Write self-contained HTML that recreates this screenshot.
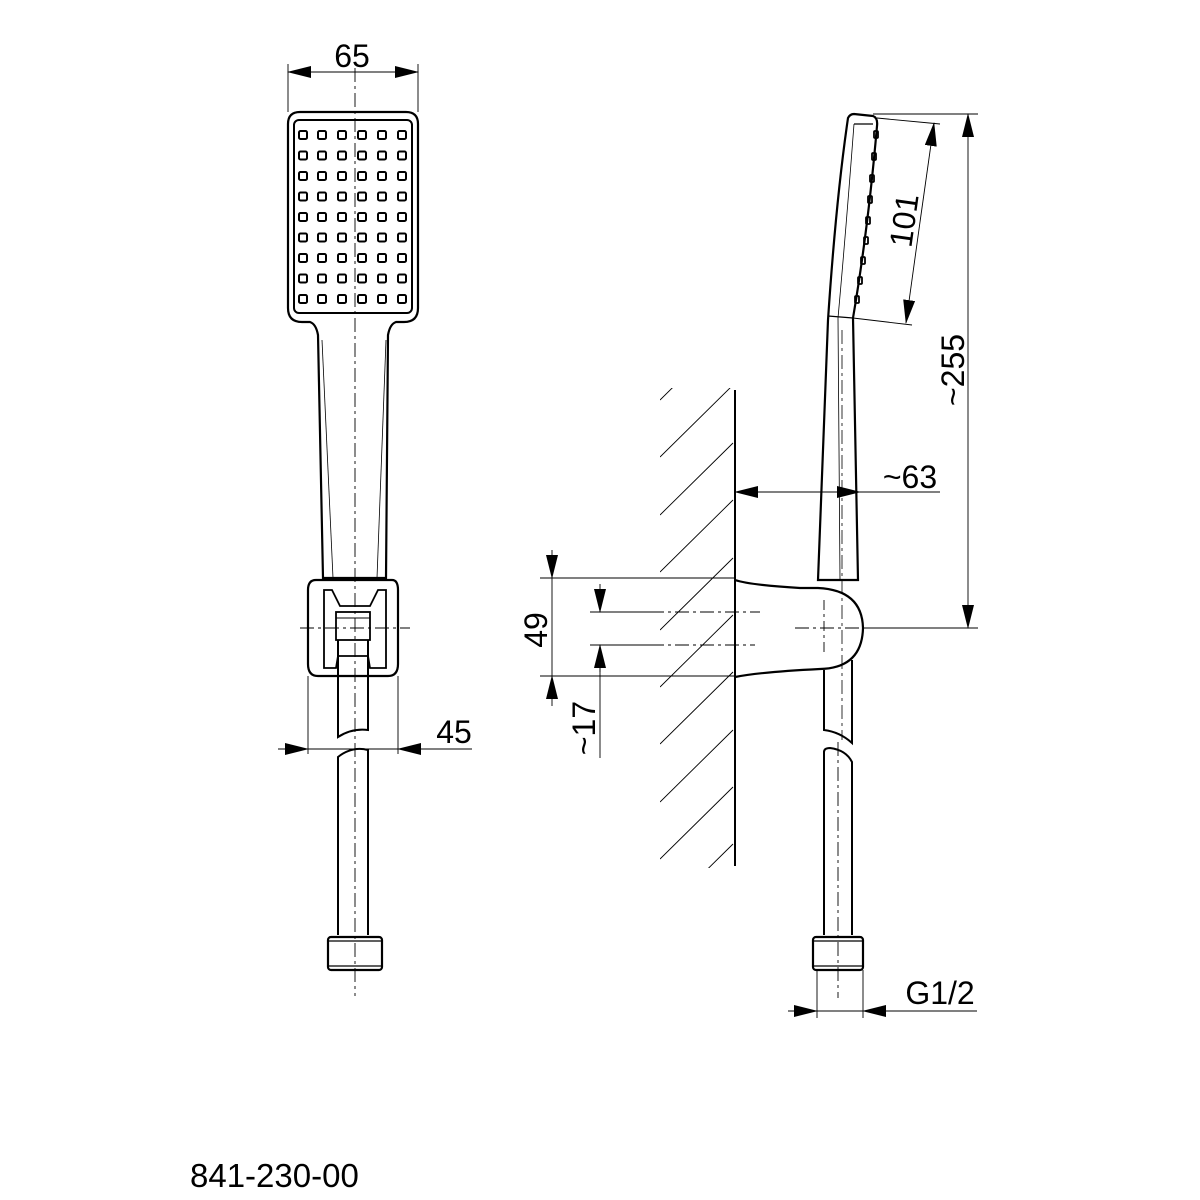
<!DOCTYPE html>
<html><head><meta charset="utf-8"><style>html,body{margin:0;padding:0;background:#fff}svg{display:block}</style></head><body>
<svg width="1200" height="1200" viewBox="0 0 1200 1200" xmlns="http://www.w3.org/2000/svg" font-family="Liberation Sans, Arial, sans-serif">
<defs>
<marker id="a" markerWidth="24" markerHeight="12" refX="23" refY="6" orient="auto" markerUnits="userSpaceOnUse"><path d="M0,0 L24,6 L0,12 Z" fill="#000"/></marker>
<clipPath id="hc"><rect x="660" y="388" width="75" height="480"/></clipPath>
</defs>
<g fill="none" stroke="#000">
<!-- FRONT VIEW -->
<line x1="355" y1="68" x2="355" y2="996" stroke-width="0.9" stroke-dasharray="14,4,3,4"/>
<line x1="300" y1="628" x2="410" y2="628" stroke-width="0.9" stroke-dasharray="14,4,3,4"/>
<path d="M300,112 H406 Q418,112 418,124 V308 Q418,322 404,322 H396 Q390,324 388,335 L386,578 H323 L318,335 Q316,324 310,322 H302 Q288,322 288,308 V124 Q288,112 300,112 Z" stroke-width="2.2"/>
<rect x="294" y="120" width="118" height="193" rx="5" stroke-width="2"/>
<line x1="322" y1="340" x2="333" y2="578" stroke-width="0.8"/>
<line x1="386" y1="340" x2="377" y2="578" stroke-width="0.8"/>
<g stroke-width="2">
<g id="row">
<rect x="299" y="131" width="8" height="8" rx="1.5"/><rect x="318" y="131" width="8" height="8" rx="1.5"/><rect x="338" y="131" width="8" height="8" rx="1.5"/><rect x="358" y="131" width="8" height="8" rx="1.5"/><rect x="378" y="131" width="8" height="8" rx="1.5"/><rect x="398" y="131" width="8" height="8" rx="1.5"/>
</g>
<use href="#row" y="20.5"/><use href="#row" y="41"/><use href="#row" y="61.5"/><use href="#row" y="82"/><use href="#row" y="102.5"/><use href="#row" y="123"/><use href="#row" y="143.5"/><use href="#row" y="164"/>
</g>
<path d="M316,580 H392 Q398,580 398,590 V664 Q398,676 388,676 H318 Q308,676 308,664 V590 Q308,580 316,580 Z" stroke-width="2.2"/>
<path d="M324,590 H332 L340,606 L370,606 L378,590 H386 V668 H370 L368,656 H338 L336,668 H324 Z" stroke-width="1.8"/>
<rect x="336" y="612" width="34" height="28" stroke-width="1.8"/>
<line x1="336" y1="618" x2="370" y2="618" stroke-width="1"/>
<path d="M338,640 V737 Q352,728 368,730 V640" stroke-width="2"/>
<path d="M338,935 V757 Q352,746 368,750 V935" stroke-width="2"/>
<rect x="328" y="937" width="54" height="33" rx="3" stroke-width="2.2"/>
<line x1="329" y1="941" x2="381" y2="941" stroke-width="1.2"/>
<line x1="329" y1="966" x2="381" y2="966" stroke-width="1.2"/>
<g stroke-width="0.9">
<line x1="288" y1="64" x2="288" y2="112"/><line x1="418" y1="64" x2="418" y2="112"/>
<line x1="355" y1="72" x2="288" y2="72" marker-end="url(#a)"/><line x1="355" y1="72" x2="418" y2="72" marker-end="url(#a)"/>
<line x1="308" y1="676" x2="308" y2="754"/><line x1="398" y1="676" x2="398" y2="754"/>
<line x1="278" y1="749" x2="308" y2="749" marker-end="url(#a)"/><line x1="472" y1="749" x2="398" y2="749" marker-end="url(#a)"/>
<line x1="308" y1="749" x2="398" y2="749"/>
</g>
<!-- SIDE VIEW wall -->
<line x1="735" y1="390" x2="735" y2="866" stroke-width="2"/>
<g clip-path="url(#hc)" stroke-width="0.9">
<line x1="660" y1="400" x2="733" y2="328"/><line x1="660" y1="457" x2="733" y2="385"/><line x1="660" y1="515" x2="733" y2="443"/><line x1="660" y1="572" x2="733" y2="500"/><line x1="660" y1="630" x2="733" y2="558"/><line x1="660" y1="687" x2="733" y2="615"/><line x1="660" y1="744" x2="733" y2="672"/><line x1="660" y1="802" x2="733" y2="730"/><line x1="660" y1="859" x2="733" y2="787"/><line x1="660" y1="916" x2="733" y2="844"/>
</g>
<path d="M854,114 L873,116 Q878,118 877,126 Q868,230 853,318 L858,580 H818 L828,320 Q836,200 848,118 Q850,114 854,114 Z" stroke-width="2.2"/>
<path d="M854,124 L873,124" stroke-width="1.2"/>
<path d="M854,124 Q846,230 838,318 L840,580" stroke-width="0.8"/>
<line x1="828" y1="316" x2="853" y2="318" stroke-width="1.2"/>
<g stroke-width="1.8">
<rect x="874" y="131" width="4" height="7" rx="1"/><rect x="872" y="153" width="4" height="7" rx="1"/><rect x="870" y="175" width="4" height="7" rx="1"/><rect x="868" y="196" width="4" height="7" rx="1"/><rect x="866" y="217" width="4" height="7" rx="1"/><rect x="864" y="237" width="4" height="7" rx="1"/><rect x="861" y="257" width="4" height="7" rx="1"/><rect x="858" y="277" width="4" height="7" rx="1"/><rect x="855" y="296" width="4" height="7" rx="1"/>
</g>
<line x1="842" y1="330" x2="842" y2="740" stroke-width="0.8" stroke-dasharray="14,4,3,4"/>
<path d="M735,580 Q750,585 800,588 H818 Q862,590 863,628 Q862,668 820,669 Q760,672 735,677" stroke-width="2.2"/>
<line x1="795" y1="628" x2="880" y2="628" stroke-width="0.9" stroke-dasharray="14,4,3,4"/>
<line x1="824" y1="600" x2="824" y2="656" stroke-width="0.9" stroke-dasharray="10,4,3,4"/>
<path d="M824,670 V730 Q840,732 852,743 V660" stroke-width="2"/>
<path d="M824,935 V752 Q824,748 830,748 Q846,750 852,762 V935" stroke-width="2"/>
<line x1="838" y1="742" x2="838" y2="998" stroke-width="0.9" stroke-dasharray="14,4,3,4"/>
<rect x="813" y="937" width="50" height="33" rx="3" stroke-width="2.2"/>
<line x1="814" y1="941" x2="862" y2="941" stroke-width="1.2"/>
<line x1="814" y1="966" x2="862" y2="966" stroke-width="1.2"/>
<g stroke-width="0.9">
<line x1="873" y1="114" x2="978" y2="114"/><line x1="863" y1="628" x2="978" y2="628"/>
<line x1="968" y1="370" x2="968" y2="114" marker-end="url(#a)"/><line x1="968" y1="370" x2="968" y2="628" marker-end="url(#a)"/>
<line x1="877" y1="118" x2="940" y2="124"/><line x1="853" y1="318" x2="912" y2="325"/>
<line x1="920" y1="222" x2="934" y2="123" marker-end="url(#a)"/><line x1="920" y1="222" x2="906" y2="323" marker-end="url(#a)"/>
<line x1="800" y1="492" x2="735" y2="492" marker-end="url(#a)"/><line x1="800" y1="492" x2="860" y2="492" marker-end="url(#a)"/>
<line x1="860" y1="492" x2="940" y2="492"/>
<line x1="540" y1="578" x2="735" y2="578"/><line x1="540" y1="676" x2="735" y2="676"/>
<line x1="590" y1="612" x2="650" y2="612"/><line x1="590" y1="645" x2="650" y2="645"/>
<line x1="650" y1="612" x2="760" y2="612" stroke-dasharray="14,4,3,4"/>
<line x1="650" y1="645" x2="755" y2="645" stroke-dasharray="14,4,3,4"/>
<line x1="552" y1="550" x2="552" y2="578" marker-end="url(#a)"/><line x1="552" y1="706" x2="552" y2="676" marker-end="url(#a)"/>
<line x1="552" y1="578" x2="552" y2="676"/>
<line x1="600" y1="584" x2="600" y2="612" marker-end="url(#a)"/><line x1="600" y1="672" x2="600" y2="645" marker-end="url(#a)"/>
<line x1="600" y1="645" x2="600" y2="758"/>
<line x1="817" y1="970" x2="817" y2="1018"/><line x1="863" y1="970" x2="863" y2="1018"/>
<line x1="788" y1="1011" x2="817" y2="1011" marker-end="url(#a)"/><line x1="888" y1="1011" x2="863" y2="1011" marker-end="url(#a)"/>
<line x1="817" y1="1011" x2="977" y2="1011"/>
</g>
</g>
<g font-size="32" fill="#000">
<text x="352" y="67" text-anchor="middle">65</text>
<text x="454" y="743" text-anchor="middle">45</text>
<text x="910" y="488" text-anchor="middle">~63</text>
<text x="940" y="1004" text-anchor="middle">G1/2</text>
<text transform="translate(964,370) rotate(-90)" text-anchor="middle">~255</text>
<text transform="translate(915,222) rotate(-82)" text-anchor="middle">101</text>
<text transform="translate(547,630) rotate(-90)" text-anchor="middle">49</text>
<text transform="translate(595,728) rotate(-90)" text-anchor="middle">~17</text>
<text x="190" y="1187" font-size="33">841-230-00</text>
</g>
</svg>
</body></html>
